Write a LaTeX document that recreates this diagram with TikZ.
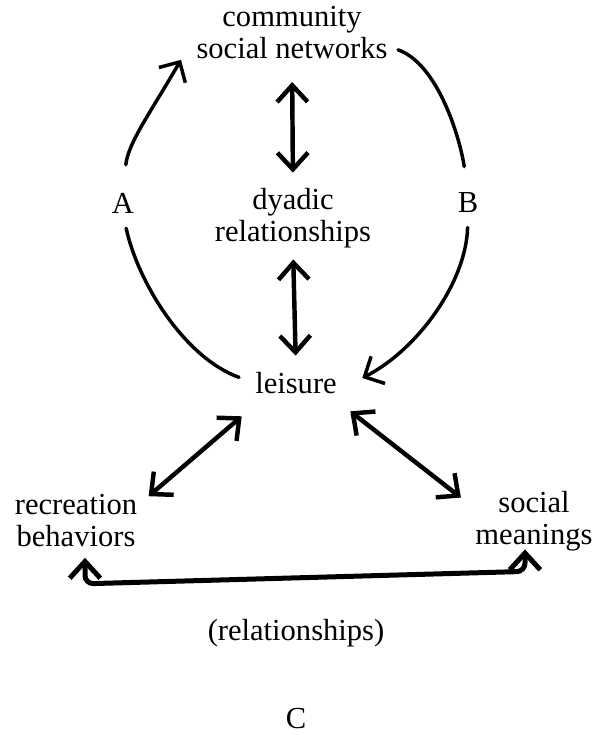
\documentclass[tikz,border=0pt]{standalone}
\usepackage{fontspec}
\setmainfont{Liberation Serif}
\usepackage{tikz}
\usetikzlibrary{arrows.meta,positioning}

\begin{document}
\begin{tikzpicture}[
    x=0.36pt, y=-0.36pt,
    txt/.style={inner sep=0pt, align=center, font=\fontsize{11}{11.5}\selectfont},
    arc/.style={-{Straight Barb[length=5.5pt,width=11pt]}, line width=1.25pt, line cap=round},
    arcpart/.style={line width=1.25pt, line cap=round},
    link/.style={{Straight Barb[length=6pt,width=11pt]}-{Straight Barb[length=6pt,width=11pt]}, line width=1.6pt, line cap=round}
]
    \useasboundingbox (0,0) rectangle (598,735);

    \node[txt] (com) at (292,33) {community\\social networks};
    \node[txt] (dyad) at (293,218) {dyadic\\relationships};
    \node[txt] (lei) at (296,383) {leisure};
    \node[txt] (rec) at (76,521) {recreation\\behaviors};
    \node[txt] (soc) at (534,521) {social\\meanings};
    \node[txt] (rel) at (296,633) {(relationships)};
    \node[txt, below=21.6pt of rel] (C) {C};
    \node[txt] (A) at (123,203) {A};
    \node[txt] (B) at (468,203) {B};

    % vertical chain
    \draw[link, shorten <=8pt, shorten >=5.4pt] (com.south) -- (dyad.north);
    \draw[link, shorten <=4pt, shorten >=5.8pt] (dyad.south) -- (lei.north);

    % left arc (A)
    \draw[arcpart, shorten <=6pt, shorten >=5.4pt] (lei.west) .. controls (185,358) and (138,283) .. (A.south);
    \draw[arc, shorten <=10pt] (A.north) .. controls (128,143) and (152,110) .. ([shift={(-15,0)}]com.south west);

    % right arc (B)
    \draw[arcpart, shorten >=9.4pt] ([shift={(10,-10)}]com.south east) .. controls (438,64) and (460,138) .. (B.north);
    \draw[arc, shorten <=5pt] (B.south) .. controls (466,283) and (417,350) .. ([shift={(25,-5)}]lei.east);

    % lower triangle
    \draw[link] ([shift={(-13,22)}]lei.south west) -- ([shift={(11,2)}]rec.north east);
    \draw[link] ([shift={(13,17)}]lei.south east) -- ([shift={(-14,7)}]soc.north west);

    \coordinate (rbend) at ([shift={(9,36)}]rec.south);
    \coordinate (sbend) at ([shift={(-9,20)}]soc.south);
    \draw[link, line width=1.8pt, rounded corners=3pt] ([shift={(9,10)}]rec.south) -- (rbend) -- (sbend) -- ([shift={(-9,-2)}]soc.south);
\end{tikzpicture}
\end{document}
